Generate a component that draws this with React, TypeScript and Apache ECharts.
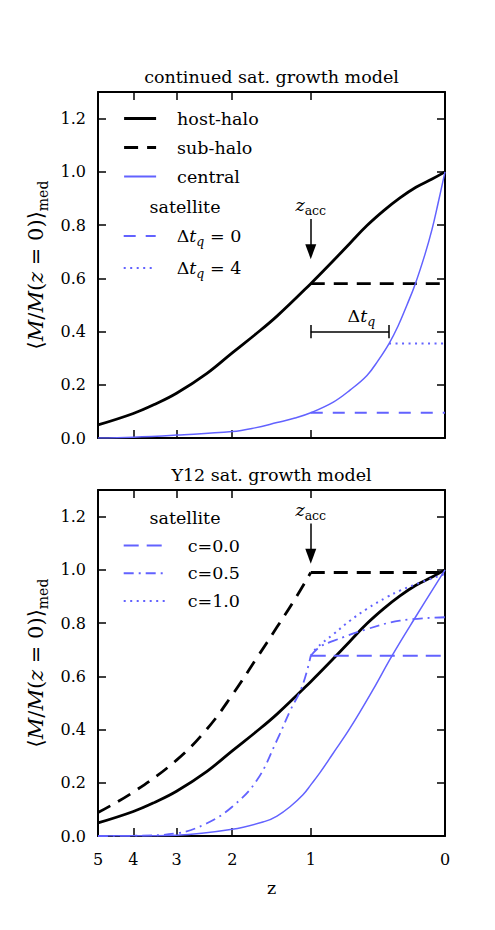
import React, { useEffect, useRef } from 'react';
import * as echarts from 'echarts';

// redshift axis is drawn in log10(1 + z)
const lx = (z: number) => Math.log10(1 + z);

const zTicks = [5, 4, 3, 2, 1, 0];
const yTicks = [0, 0.2, 0.4, 0.6, 0.8, 1.0, 1.2];
const zMax = 5;
const yMax = 1.3;

// host halo median mass history (same in both panels)
const hostZ = [5, 4, 3.47, 3, 2.418, 2, 1.668, 1.381, 1, 0.783, 0.633, 0.496, 0.37, 0.262, 0.162, 0.069, 0];
const hostM = [0.049, 0.092, 0.127, 0.168, 0.243, 0.32, 0.388, 0.458, 0.58, 0.665, 0.732, 0.798, 0.855, 0.902, 0.942, 0.973, 1.0];

// continued model: central galaxy
const centralZ = [5, 4, 3, 2, 1.668, 1.381, 1.17, 1, 0.78, 0.633, 0.496, 0.414, 0.335, 0.275, 0.217, 0.167, 0.109, 0.069, 0.037, 0];
const centralM = [0.0, 0.003, 0.011, 0.024, 0.038, 0.058, 0.075, 0.095, 0.135, 0.18, 0.235, 0.29, 0.355, 0.42, 0.5, 0.577, 0.69, 0.785, 0.88, 1.0];

// continued model: sub-halo and satellites after accretion
const zAcc = 1;
const subTopZ = [1, 0];
const subTopM = [0.58, 0.58];
const dtq0Z = [1, 0];
const dtq0M = [0.095, 0.095];
const dtq4Z = [0.335, 0];
const dtq4M = [0.355, 0.355];

// Y12 model: sub-halo
const subY12Z = [5, 4, 3, 2.418, 2, 1.64, 1.381, 1.17, 1];
const subY12M = [0.088, 0.165, 0.285, 0.402, 0.53, 0.67, 0.785, 0.89, 0.99];
const subY12FlatZ = [1, 0];
const subY12FlatM = [0.99, 0.99];

// Y12 model: central galaxy
const centralY12Z = [5, 4, 3, 2, 1.533, 1.381, 1.226, 1.082, 1, 0.907, 0.783, 0.633, 0.45, 0.315, 0.167, 0];
const centralY12M = [0.0, 0.001, 0.003, 0.025, 0.055, 0.075, 0.11, 0.155, 0.192, 0.238, 0.31, 0.405, 0.55, 0.677, 0.82, 1.0];

// Y12 model: satellite before accretion, then three values of c
const satPreZ = [5, 4, 3, 2.418, 2, 1.64, 1.381, 1.226, 1.093, 1];
const satPreM = [0.0, 0.001, 0.01, 0.048, 0.11, 0.21, 0.36, 0.47, 0.56, 0.677];
const c00Z = [1, 0];
const c00M = [0.677, 0.677];
const c05Z = [1, 0.907, 0.78, 0.498, 0.262, 0];
const c05M = [0.677, 0.711, 0.733, 0.777, 0.809, 0.822];
const c10Z = [1, 0.94, 0.78, 0.633, 0.498, 0.351, 0.262, 0.157, 0];
const c10M = [0.677, 0.707, 0.758, 0.809, 0.853, 0.897, 0.922, 0.947, 0.985];

// annotations
const arrowTop = [0.823, 0.7];
const arrowBottom = [1.174, 1.051];
const dtLevel = 0.4;
const dtCap = 0.025;
const dtEndZ = 0.335;
const dtLabelZ = 0.54;

const FONT = 'DejaVu Serif';
const FS = 17.5;
const FS_SUB = 12.5;
const FS_TICK = 16;
const BLUE = '#6262ff';

const pts = (zs: number[], ms: number[]) => zs.map((z, i) => [lx(z), ms[i]]);

const rich = {
  g: { width: 16, fontFamily: FONT, fontSize: FS, lineHeight: 24 },
  n: { fontFamily: FONT, fontSize: FS, lineHeight: 24, color: '#000' },
  i: { fontFamily: FONT, fontSize: FS, fontStyle: 'italic', lineHeight: 24, color: '#000' },
  s: { fontFamily: FONT, fontSize: FS_SUB, lineHeight: 13, verticalAlign: 'bottom', color: '#000' },
  si: { fontFamily: FONT, fontSize: FS_SUB, fontStyle: 'italic', lineHeight: 13, verticalAlign: 'bottom', color: '#000' },
};

const legendText: Record<string, string> = {
  'host-halo': '{n|host-halo}',
  'sub-halo': '{n|sub-halo}',
  central: '{n|central}',
  dtq0: '{n|Δ}{i|t}{si|q}{n| = 0}',
  dtq4: '{n|Δ}{i|t}{si|q}{n| = 4}',
  'c=0.0': '{n|c=0.0}',
  'c=0.5': '{n|c=0.5}',
  'c=1.0': '{n|c=1.0}',
};

function xAxis(gridIndex: number, position: string, labels: boolean, name?: string) {
  return {
    type: 'value',
    gridIndex,
    position,
    min: 0,
    max: lx(zMax),
    inverse: true,
    name: name || '',
    nameLocation: 'middle',
    nameGap: 43,
    nameTextStyle: { fontFamily: FONT, fontSize: FS, color: '#000' },
    axisLine: { show: true, onZero: false, lineStyle: { color: '#000', width: 2 } },
    axisTick: { show: true, inside: true, length: 8, customValues: zTicks.map(lx), lineStyle: { color: '#000', width: 1.5 } },
    axisLabel: {
      show: labels,
      customValues: zTicks.map(lx),
      margin: 15,
      fontFamily: FONT,
      fontSize: FS_TICK,
      color: '#000',
      formatter: (v: number) => String(Math.round(Math.pow(10, v) - 1)),
    },
    splitLine: { show: false },
  };
}

function yAxis(gridIndex: number, position: string, labels: boolean) {
  return {
    type: 'value',
    gridIndex,
    position,
    min: 0,
    max: yMax,
    name: labels ? '{a|⟨}{i|M}{a|/}{i|M}{a|(}{i|z}{a| = 0)⟩}{s|med}' : '',
    nameLocation: 'middle',
    nameGap: 48,
    nameRotate: 90,
    nameTextStyle: {
      fontFamily: FONT,
      rich: {
        a: { fontFamily: FONT, fontSize: 21, lineHeight: 28, color: '#000' },
        i: { fontFamily: FONT, fontSize: 21, fontStyle: 'italic', lineHeight: 28, color: '#000' },
        s: { fontFamily: FONT, fontSize: 14, lineHeight: 14, verticalAlign: 'bottom', color: '#000' },
      },
    },
    axisLine: { show: true, onZero: false, lineStyle: { color: '#000', width: 2 } },
    axisTick: { show: true, inside: true, length: 8, customValues: yTicks, lineStyle: { color: '#000', width: 1.5 } },
    axisLabel: {
      show: labels,
      customValues: yTicks,
      margin: 12,
      fontFamily: FONT,
      fontSize: FS_TICK,
      color: '#000',
      formatter: (v: number) => v.toFixed(1),
    },
    splitLine: { show: false },
  };
}

function line(name: string, data: number[][], grid: number, color: string, width: number, type: any, smooth = 0.4, extra: any = {}) {
  return {
    type: 'line',
    name,
    xAxisIndex: grid * 2,
    yAxisIndex: grid * 2,
    data,
    showSymbol: false,
    symbol: 'none',
    smooth,
    lineStyle: { color, width, type, cap: 'butt' },
    itemStyle: { color },
    silent: true,
    ...extra,
  };
}

function accArrow(y: number[]) {
  return {
    silent: true,
    animation: false,
    symbol: ['none', 'triangle'],
    symbolSize: [11, 15],
    lineStyle: { color: '#000', width: 1.5, type: 'solid' },
    itemStyle: { color: '#000' },
    label: {
      show: true,
      position: 'start',
      distance: 2,
      fontFamily: FONT,
      formatter: '{i|z}{s|acc}',
      rich,
    },
    data: [[{ coord: [lx(zAcc), y[0]] }, { coord: [lx(zAcc), y[1]] }]],
  };
}

function legend(names: string[], top: number, itemWidth: number, gap: number) {
  return {
    data: names.map((n) => ({ name: n, lineStyle: { width: n === 'host-halo' || n === 'sub-halo' ? 2.8 : 2 } })),
    orient: 'vertical',
    left: 122.7,
    top,
    padding: 0,
    itemWidth,
    itemHeight: 14,
    itemGap: gap,
    selectedMode: false,
    itemStyle: { opacity: 0, borderWidth: 0 },
    formatter: (n: string) => '{g| }' + (legendText[n] || n),
    textStyle: { color: '#000', fontFamily: FONT, fontSize: FS, rich },
  };
}

export default function App() {
  const ref = useRef<HTMLDivElement>(null);

  useEffect(() => {
    if (!ref.current) return;
    const chart = echarts.init(ref.current, null, { renderer: 'svg' });

    const titleStyle = { fontFamily: FONT, fontSize: FS, fontWeight: 'normal', color: '#000' };
    const option: any = {
      animation: false,
      backgroundColor: '#fff',
      textStyle: { fontFamily: FONT },
      title: [
        { text: 'continued sat. growth model', left: 271.5, top: 68, textAlign: 'center', padding: 0, textStyle: titleStyle },
        { text: 'Y12 sat. growth model', left: 271.5, top: 466, textAlign: 'center', padding: 0, textStyle: titleStyle },
      ],
      grid: [
        { left: 98, top: 92, width: 347, height: 346 },
        { left: 98, top: 490, width: 347, height: 346 },
      ],
      xAxis: [
        xAxis(0, 'bottom', false),
        xAxis(0, 'top', false),
        xAxis(1, 'bottom', true, 'z'),
        xAxis(1, 'top', false),
      ],
      yAxis: [yAxis(0, 'left', true), yAxis(0, 'right', false), yAxis(1, 'left', true), yAxis(1, 'right', false)],
      legend: [
        legend(['host-halo', 'sub-halo', 'central'], 109.5, 32, 11),
        legend(['dtq0', 'dtq4'], 227, 32, 11),
        legend(['c=0.0', 'c=0.5', 'c=1.0'], 536.5, 43, 9.8),
      ],
      graphic: [
        { type: 'text', x: 185, y: 207, style: { text: 'satellite', font: `${FS}px ${FONT}`, fontFamily: FONT, fontSize: FS, fill: '#000', align: 'center', verticalAlign: 'middle' } },
        { type: 'text', x: 185, y: 518, style: { text: 'satellite', font: `${FS}px ${FONT}`, fontFamily: FONT, fontSize: FS, fill: '#000', align: 'center', verticalAlign: 'middle' } },
      ],
      series: [
        // continued sat. growth model
        line('host-halo', pts(hostZ, hostM), 0, '#000', 2.8, 'solid'),
        line('sub-halo', pts(subTopZ, subTopM), 0, '#000', 2.8, [14, 9], 0, { markLine: accArrow(arrowTop) }),
        line('central', pts(centralZ, centralM), 0, BLUE, 1.5, 'solid'),
        line('dtq0', pts(dtq0Z, dtq0M), 0, BLUE, 2, [12, 10], 0),
        line('dtq4', pts(dtq4Z, dtq4M), 0, BLUE, 2, [2, 4.5], 0, {
          markLine: {
            silent: true,
            animation: false,
            symbol: ['none', 'none'],
            lineStyle: { color: '#000', width: 1.5, type: 'solid' },
            label: { show: false },
            data: [
              [{ coord: [lx(zAcc), dtLevel] }, { coord: [lx(dtEndZ), dtLevel] }],
              [{ coord: [lx(zAcc), dtLevel - dtCap] }, { coord: [lx(zAcc), dtLevel + dtCap] }],
              [{ coord: [lx(dtEndZ), dtLevel - dtCap] }, { coord: [lx(dtEndZ), dtLevel + dtCap] }],
            ],
          },
          markPoint: {
            silent: true,
            animation: false,
            symbol: 'circle',
            symbolSize: 0,
            label: { show: true, position: 'top', distance: 4, fontFamily: FONT, formatter: '{n|Δ}{i|t}{si|q}', rich },
            data: [{ coord: [lx(dtLabelZ), dtLevel] }],
          },
        }),

        // Y12 sat. growth model
        line('host-halo', pts(hostZ, hostM), 1, '#000', 2.8, 'solid'),
        line('sub-halo', pts(subY12Z, subY12M), 1, '#000', 2.8, [14, 9]),
        line('sub-halo', pts(subY12FlatZ, subY12FlatM), 1, '#000', 2.8, [14, 9], 0, { markLine: accArrow(arrowBottom) }),
        line('central', pts(centralY12Z, centralY12M), 1, BLUE, 1.5, 'solid'),
        line('c=0.0', pts(c00Z, c00M), 1, BLUE, 2, [15, 8], 0),
        line('c=0.5', pts(satPreZ, satPreM), 1, BLUE, 1.8, [10, 5, 2, 5]),
        line('c=0.5', pts(c05Z, c05M), 1, BLUE, 1.8, [10, 5, 2, 5]),
        line('c=1.0', pts(c10Z, c10M), 1, BLUE, 2, [2, 4.5]),
      ],
    };

    chart.setOption(option);
    return () => chart.dispose();
  }, []);

  return <div ref={ref} style={{ position: 'absolute', left: 0, top: 0, width: 495, height: 930, background: '#fff' }} />;
}
